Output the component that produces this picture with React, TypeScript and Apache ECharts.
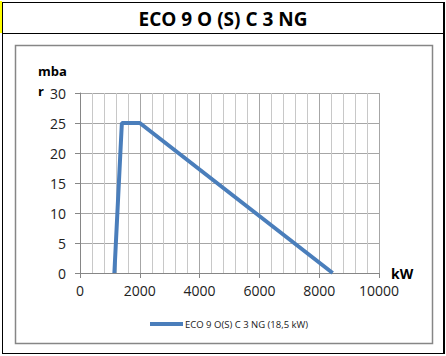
import React, { useEffect, useRef } from "react";
import * as echarts from "echarts";

const seriesName = "ECO 9 O(S) C 3 NG (18,5 kW)";
const powerKW = [1150, 1400, 2000, 8450];
const pressureMbar = [0, 25, 25, 0];
const chartTitle = "ECO 9 O (S) C 3 NG";

const FONT = "'Open Sans', 'Liberation Sans', sans-serif";

export default function App() {
  const ref = useRef<HTMLDivElement>(null);
  useEffect(() => {
    if (!ref.current) return;
    const chart = echarts.init(ref.current, null, { renderer: "svg" });
    const data = powerKW.map((x, i) => [x, pressureMbar[i]]);
    chart.setOption({
      animation: false,
      backgroundColor: "#ffffff",
      title: {
        text: chartTitle,
        left: "center",
        top: 4,
        textStyle: { fontFamily: FONT, fontSize: 19, fontWeight: "bold", color: "#000" },
      },
      grid: { left: 80, top: 93, right: 67, bottom: 83, containLabel: false },
      legend: {
        show: true,
        left: 145,
        top: 314,
        icon: "rect",
        itemWidth: 33,
        itemHeight: 4,
        itemGap: 2,
        textStyle: { fontFamily: FONT, fontSize: 9.5, color: "#222", padding: [0, 0, 0, -3] },
        data: [seriesName],
      },
      xAxis: {
        type: "value",
        min: 0,
        max: 10000,
        interval: 2000,
        axisLine: { show: true, lineStyle: { color: "#868686", width: 1 } },
        axisTick: { show: true, length: 5, lineStyle: { color: "#868686" } },
        minorTick: { show: false, splitNumber: 5 },
        splitLine: { show: true, lineStyle: { color: "#a6a6a6", width: 1 } },
        minorSplitLine: { show: true, lineStyle: { color: "#c8c8c8", width: 1 } },
        axisLabel: {
          fontFamily: FONT,
          fontSize: 14,
          color: "#222",
          margin: 10,
          formatter: (v: number) => String(v),
        },
      },
      yAxis: {
        type: "value",
        min: 0,
        max: 30,
        interval: 5,
        axisLine: { show: true, lineStyle: { color: "#868686", width: 1 } },
        axisTick: { show: true, length: 5, lineStyle: { color: "#868686" } },
        splitLine: { show: true, lineStyle: { color: "#a6a6a6", width: 1 } },
        axisLabel: { fontFamily: FONT, fontSize: 14, color: "#222", margin: 14 },
      },
      series: [
        {
          name: seriesName,
          type: "line",
          data,
          showSymbol: false,
          symbol: "none",
          lineStyle: { color: "#4a7ebb", width: 4 },
          itemStyle: { color: "#4a7ebb" },
        },
      ],
      graphic: [
        { type: "rect", shape: { x: 0, y: 1, width: 2, height: 32 }, style: { fill: "#ffff00" } },
        { type: "line", shape: { x1: 2, y1: 2.5, x2: 445, y2: 2.5 }, style: { stroke: "#000", lineWidth: 1 } },
        { type: "line", shape: { x1: 2, y1: 33.5, x2: 445, y2: 33.5 }, style: { stroke: "#000", lineWidth: 1 } },
        { type: "line", shape: { x1: 2.5, y1: 2, x2: 2.5, y2: 354 }, style: { stroke: "#000", lineWidth: 1 } },
        { type: "line", shape: { x1: 444, y1: 2, x2: 444, y2: 354 }, style: { stroke: "#000", lineWidth: 2 } },
        { type: "line", shape: { x1: 2, y1: 353.5, x2: 445, y2: 353.5 }, style: { stroke: "#000", lineWidth: 1 } },
        { type: "rect", shape: { x: 15.5, y: 45.5, width: 417, height: 298 }, style: { fill: "none", stroke: "#868686", lineWidth: 1.5 } },
        { type: "text", x: 38, y: 64, style: { text: "mba", font: `bold 13px ${FONT}`, fill: "#000" } },
        { type: "text", x: 38, y: 84, style: { text: "r", font: `bold 13px ${FONT}`, fill: "#000" } },
        { type: "text", x: 391, y: 266, style: { text: "kW", font: `bold 14px ${FONT}`, fill: "#000" } },
      ],
    });
    return () => chart.dispose();
  }, []);
  return (
    <div
      ref={ref}
      style={{ position: "absolute", left: 0, top: 0, width: 446, height: 356 }}
    />
  );
}
